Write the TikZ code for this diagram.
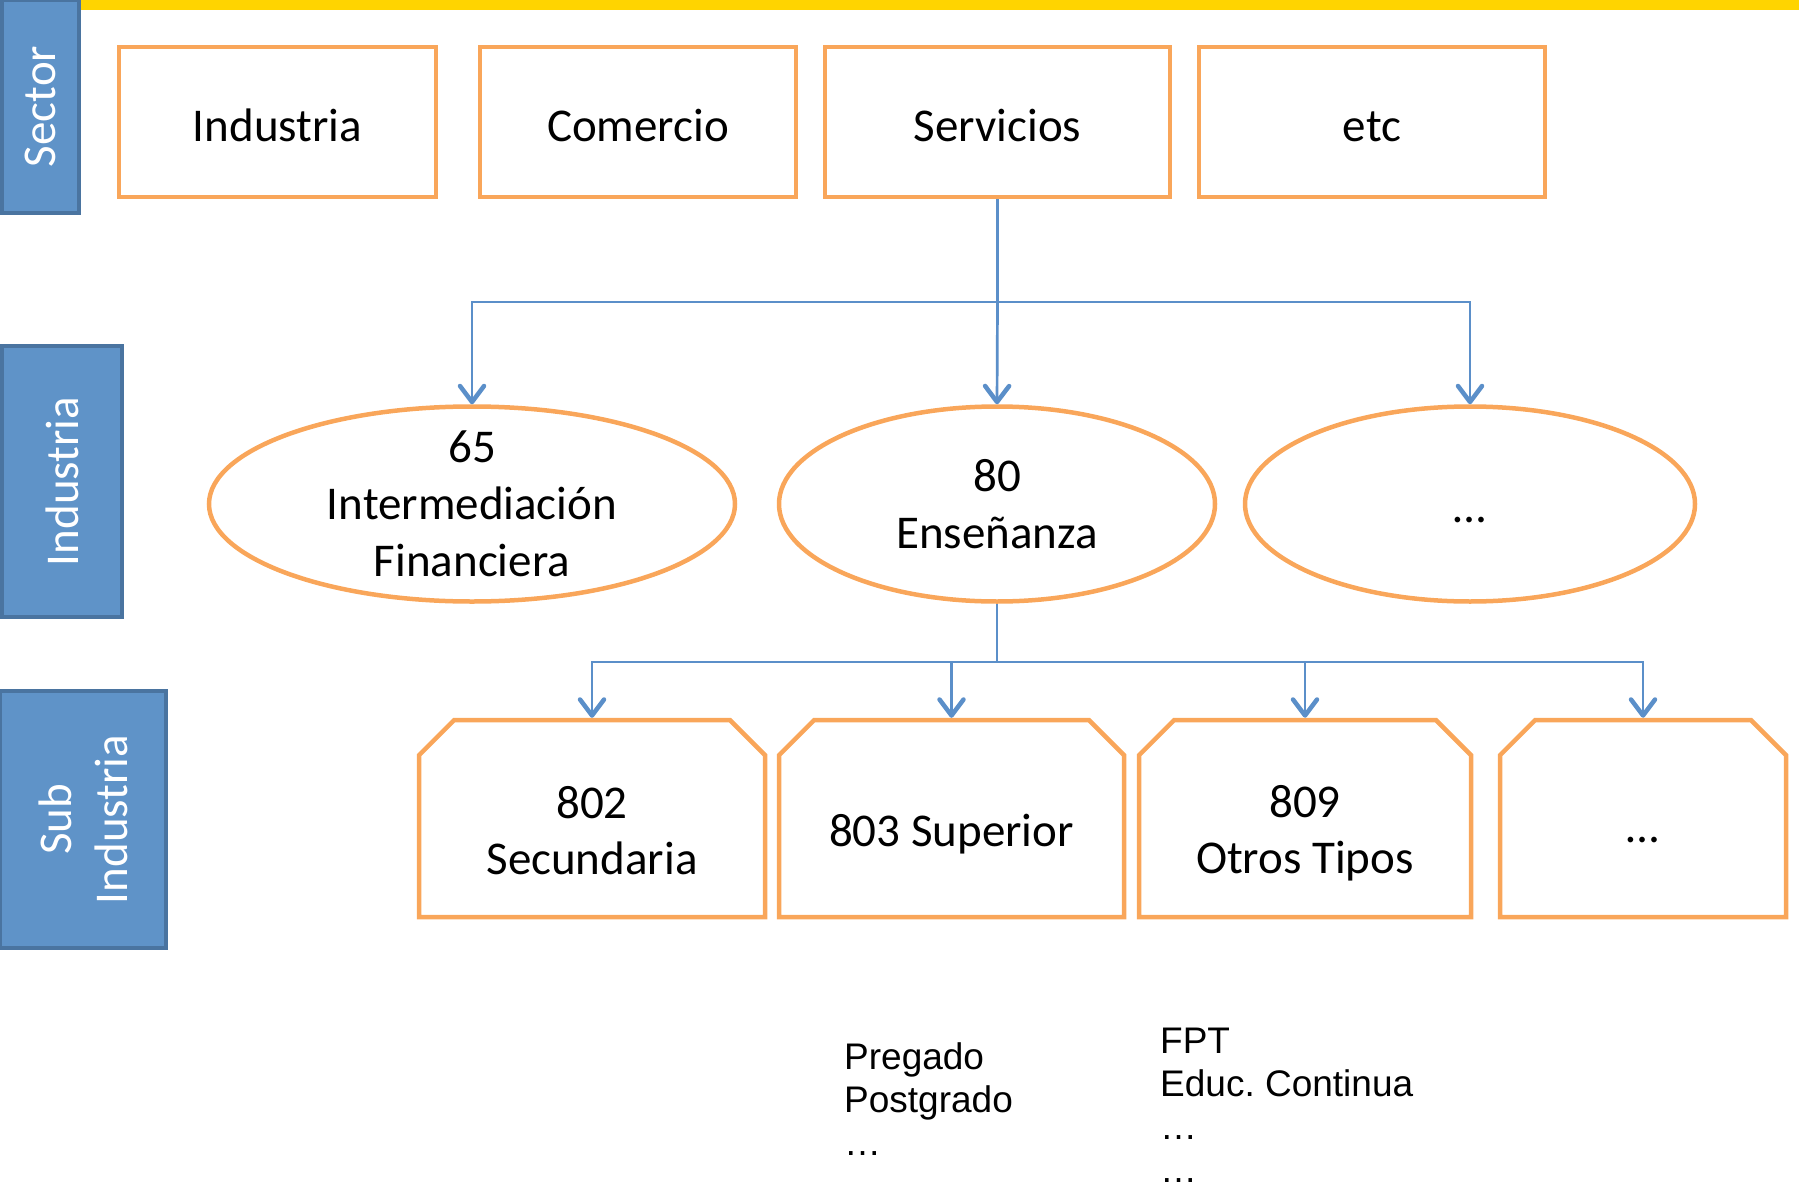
\documentclass[tikz,border=0pt]{standalone}
\usepackage{fontspec}
\setmainfont{Carlito}
\newfontfamily\listafont{Liberation Sans}
\usetikzlibrary{shapes.geometric,shapes.misc,arrows.meta}

\definecolor{naranja}{HTML}{F9A65A}
\definecolor{azul}{HTML}{5F93C8}
\definecolor{azulborde}{HTML}{4A74A0}
\definecolor{flecha}{HTML}{5B8FC9}
\definecolor{amarillo}{HTML}{FFD400}

\tikzset{
  nivel/.style={draw=azulborde, fill=azul, line width=4pt, text=white, rotate=90,
    align=center, inner sep=0pt, font=\fontsize{47}{56}\selectfont},
  caja/.style={draw=naranja, line width=4.5pt, inner sep=0pt, minimum height=150pt,
    text height=40pt, text depth=0pt, align=center, font=\fontsize{47}{56}\selectfont},
  elipse/.style={ellipse, draw=naranja, line width=4.5pt, inner sep=-20pt,
    minimum height=195pt, align=center, font=\fontsize{47}{57}\selectfont},
  subcaja/.style={chamfered rectangle, chamfered rectangle corners={north west,north east},
    chamfered rectangle xsep=32pt, draw=naranja, line width=4.5pt, inner sep=0pt,
    text width=120pt, text height=60pt, text depth=60pt, minimum height=197pt},
  subtexto/.style={align=center, inner sep=0pt, font=\fontsize{47}{56}\selectfont},
  flujo/.style={draw=flecha, line width=2.7pt,
    -{Straight Barb[length=16pt,width=24pt,line width=4.5pt,round]}},
  lista/.style={anchor=base west, align=left, inner sep=0pt,
    font=\listafont\fontsize{37}{43}\selectfont}
}

\begin{document}
\begin{tikzpicture}[x=1pt,y=-1pt]
  \useasboundingbox (0,0) rectangle (1799,1188);
  \fill[amarillo] (77,0) rectangle (1799,10);

  % niveles
  \node[nivel, minimum width=213pt, minimum height=77pt] (sector) at (40,106.5) {Sector};
  \node[nivel, minimum width=271pt, minimum height=120pt] (industria) at (62,481.5) {Industria};
  \node[nivel, minimum width=257pt, minimum height=166pt] (subindustria) at (83,819.5) {Sub\\Industria};

  % sectores
  \node[caja, minimum width=317pt] (industr) at (277.5,122) {Industria};
  \node[caja, minimum width=316pt] (comercio) at (638,122) {Comercio};
  \node[caja, minimum width=345pt] (servicios) at (997.5,122) {Servicios};
  \node[caja, minimum width=346pt] (etc) at (1372,122) {etc};

  % industrias
  \node[elipse, minimum width=526pt] (e65) at (472,504) {65\\Intermediación\\Financiera};
  \node[elipse, minimum width=436pt] (e80) at (997,504) {80\\Enseñanza};
  \node[elipse, minimum width=450pt] (eotra) at (1470,504) {\raisebox{-18pt}[0pt][0pt]{…}};

  % sub industrias
  \node[subcaja, minimum width=346pt] (s802) at (592,818.5) {};
  \node[subcaja, minimum width=345pt] (s803) at (951.5,818.5) {};
  \node[subcaja, minimum width=332pt] (s809) at (1305,818.5) {};
  \node[subcaja, minimum width=286pt] (sotra) at (1643,818.5) {};
  \node[subtexto] (t802) at ([yshift=-12pt]s802.center) {802\\Secundaria};
  \node[subtexto] (t803) at ([yshift=-16pt]s803.center) {803 Superior};
  \node[subtexto] (t809) at ([yshift=-15pt]s809.center) {809\\Otros Tipos};
  \node[subtexto] (totra) at ([yshift=-22pt]sotra.center) {…};

  % conectores
  \coordinate (rama1) at (997.5,302);
  \coordinate (rama2) at (997,662);
  \draw[flujo, -] (servicios.south) -- (rama1);
  \draw[flujo] (rama1) -| (e65.north);
  \draw[flujo] (rama1) -- (e80.north);
  \draw[flujo] (rama1) -| (eotra.north);
  \draw[flujo, -] (e80.south) -- (rama2);
  \draw[flujo] (rama2) -| (s802.north);
  \draw[flujo] (rama2) -| (s803.north);
  \draw[flujo] (rama2) -| (s809.north);
  \draw[flujo] (rama2) -| (sotra.north);

  % listas
  \node[lista] (lsuperior) at (844,1155) {Pregado\\Postgrado\\…};
  \node[lista] (lotros) at (1160,1182) {FPT\\Educ.\ Continua\\…\\…};
\end{tikzpicture}
\end{document}
